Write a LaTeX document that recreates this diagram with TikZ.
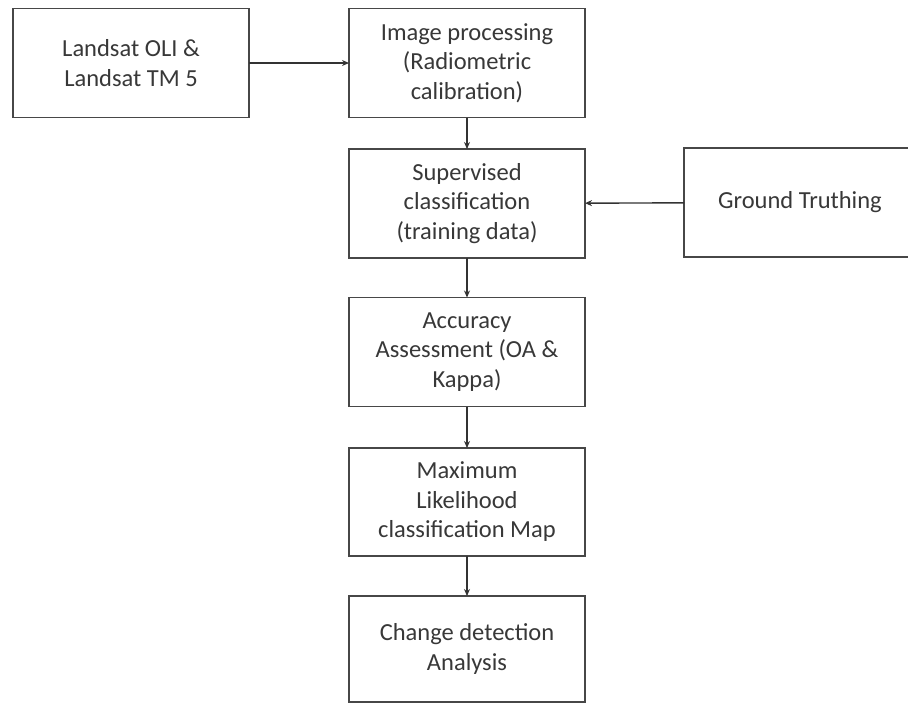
\documentclass[tikz,border=0pt]{standalone}
\usepackage{fontspec}
\setmainfont{Carlito}
\usetikzlibrary{arrows.meta}
\begin{document}
\begin{tikzpicture}[x=1pt,y=-1pt,
  box/.style={draw=black!72, line width=1.2pt, fill=white, align=center,
    text=black!78, inner sep=0pt, outer sep=0pt, minimum width=236pt,
    minimum height=109pt, font=\fontsize{24.5}{29.5}\selectfont},
  conn/.style={draw=black!80, line width=1.4pt, -{Stealth[length=7pt,width=6pt]}}]
\useasboundingbox (0,0) rectangle (908,705);
\begin{scope}
\clip (0,0) rectangle (908,705);
\node[box] (land) at (131,63) {Landsat OLI \&\\Landsat TM 5};
\node[box] (img) at (467,63) {Image processing\\(Radiometric\\calibration)};
\node[box] (sup) at (467,203.5) {Supervised\\classification\\(training data)};
\node[box, minimum width=232pt] (gt) at (800,202.5) {Ground Truthing};
\node[box] (acc) at (467,352) {Accuracy\\Assessment (OA \&\\Kappa)};
\node[box, minimum height=108pt] (max) at (467,502) {Maximum\\Likelihood\\classification Map};
\node[box, minimum height=106pt] (chg) at (467,649) {Change detection\\Analysis};
\draw[conn] (land) -- (img);
\draw[conn] (gt) -- (sup);
\draw[conn] (img) -- (sup);
\draw[conn] (sup) -- (acc);
\draw[conn] (acc) -- (max);
\draw[conn] (max) -- (chg);
\end{scope}
\end{tikzpicture}
\end{document}
